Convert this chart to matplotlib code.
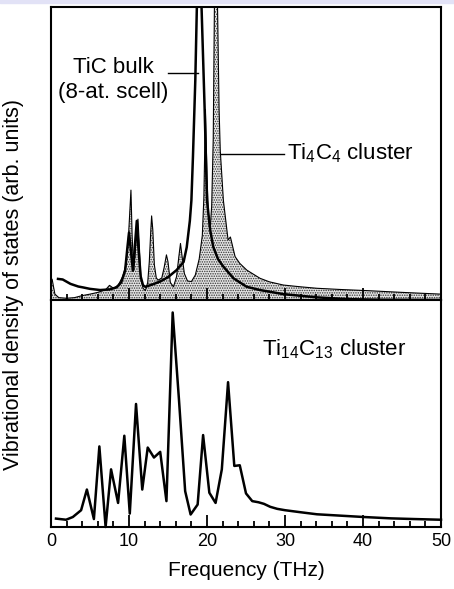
#!/usr/bin/env python

import numpy as np
import matplotlib
matplotlib.use('Agg')
import matplotlib.pyplot as plt
from matplotlib.patches import Rectangle

plt.rcParams['font.family'] = ['Liberation Sans', 'DejaVu Sans']
plt.rcParams['mathtext.default'] = 'regular'
plt.rcParams['hatch.linewidth'] = 0.7

"""
Digitized curves (frequency in THz, DOS in arb. units)
"""
# Ti4C4 cluster (thin line, stippled fill) -- top panel
f_ti4c4 = [0.0, 0.15, 0.5, 1.0, 2.0, 3.0, 4.0, 5.0, 6.0, 7.0, 7.5, 8.0, 8.6,
           9.2, 9.6, 9.9, 10.1, 10.25, 10.4, 10.6, 10.8, 11.0, 11.15, 11.3,
           11.5, 11.8, 12.1, 12.4, 12.6, 12.8, 12.9, 13.05, 13.25, 13.5,
           13.75, 14.2, 14.5, 14.8, 15.0, 15.3, 15.7, 16.1, 16.4, 16.6, 16.8,
           17.1, 17.5, 18.0, 18.5, 19.0, 19.4, 19.6, 19.8, 20.0, 20.2, 20.4,
           20.6, 20.8, 20.95, 21.1, 21.35, 21.55, 21.7, 22.1, 22.7, 23.0,
           23.6, 24.2, 25.1, 26.8, 28.0, 29.8, 32.0, 34.1, 37.0, 40.5, 45.0,
           50.0]
d_ti4c4 = [7.5, 7.0, 2.0, 0.8, 0.6, 0.8, 1.5, 2.0, 2.6, 3.5, 5.0, 4.0, 5.0,
           8.0, 12.0, 20.0, 30.0, 37.5, 22.0, 10.0, 16.0, 25.0, 27.6, 20.0,
           8.0, 4.0, 3.2, 6.0, 13.0, 24.0, 28.7, 24.0, 12.0, 7.5,
           6.8, 7.5, 11.0, 15.4, 13.0, 6.0, 4.5, 8.0, 15.0, 19.3, 15.0,
           9.0, 6.5, 6.3, 8.5, 14.0, 22.0, 35.0, 65.0, 42.0, 28.0, 24.0,
           32.0, 55.0, 100.0, 200.0, 100.0, 65.0, 51.0, 34.0, 20.5, 21.5,
           14.8, 12.5, 10.2, 7.4, 6.2, 5.1, 4.5, 4.0, 3.6, 3.2, 2.6,
           2.0]

# TiC bulk, 8-atom supercell (thick line) -- top panel
f_bulk = [0.9, 1.5, 2.5, 3.5, 4.1, 5.0, 6.3, 7.5, 8.4, 9.0, 9.5, 9.8, 10.0,
          10.2, 10.5, 10.8, 11.0, 11.2, 11.5, 11.8, 12.1, 13.0, 14.0, 15.0,
          16.1, 17.0, 17.4, 17.8, 18.0, 18.2, 18.5, 18.7, 19.0, 19.3, 19.7,
          20.0, 20.4, 20.8, 21.4, 22.1, 23.4, 25.1, 26.8, 29.8, 34.1, 38.0,
          42.0, 50.0]
d_bulk = [7.2, 7.0, 5.5, 4.6, 4.3, 3.8, 3.4, 3.6, 4.3, 6.0, 10.0, 18.0, 23.0,
          18.0, 10.0, 20.0, 27.0, 18.0, 8.0, 5.0, 4.5, 5.3, 6.3, 7.8,
          10.2, 13.0, 18.0, 27.0, 34.0, 49.0, 75.0, 100.0, 200.0, 100.0, 65.0,
          34.0, 24.0, 18.2, 14.0, 11.4, 7.4, 4.5, 3.4, 2.0, 0.9, 0.3,
          0.1, 0.0]

# Ti14C13 cluster -- bottom panel
f_ti14 = [0.64, 1.93, 2.8, 3.86, 4.6, 5.5, 6.2, 7.0, 7.7, 8.6, 9.4, 10.1,
          10.9, 11.7, 12.4, 13.2, 14.0, 14.8, 15.6, 16.4, 17.2, 17.9, 18.8,
          19.5, 20.3, 21.1, 21.9, 22.7, 23.5, 24.2, 25.0, 25.8, 26.6, 27.3,
          28.1, 29.0, 30.0, 32.0, 34.1, 37.1, 40.1, 43.6, 46.6, 50.0]
d_ti14 = [3.7, 3.2, 4.4, 7.4, 16.5, 3.5, 35.5, 0.0, 25.4, 10.6, 40.2, 5.9,
          54.2, 16.5, 35.0, 30.6, 33.1, 11.4, 94.5, 56.4, 15.8, 5.5, 9.9,
          40.5, 15.1, 10.6, 25.4, 63.8, 26.9, 27.2, 14.8, 11.4, 10.9, 10.2,
          8.9, 8.0, 7.4, 6.5, 5.6, 5.0, 4.4, 3.8, 3.5, 3.2]

xticks_major = [0, 10, 20, 30, 40, 50]

fig = plt.figure(figsize=(4.54, 5.89), dpi=100)
fig.patches.append(Rectangle((0, 1 - 2.5/589), 1, 2.5/589,
                             transform=fig.transFigure, color='#e2e2f6',
                             zorder=0))

ax1 = fig.add_axes([51/454., 1 - 300/589., 390/454., 293/589.])
ax2 = fig.add_axes([51/454., 1 - 527/589., 390/454., 227/589.])

for ax in (ax1, ax2):
    ax.set_xlim(0, 50)
    ax.set_ylim(0, 100)
    ax.set_yticks([])
    ax.set_xticks(xticks_major)
    ax.set_xticks(np.arange(0, 51, 2), minor=True)
    ax.tick_params(axis='x', which='major', direction='in', length=8.5,
                   width=1.3, labelsize=13, pad=4)
    ax.tick_params(axis='x', which='minor', direction='in', length=4.5,
                   width=1.3)
    for s in ax.spines.values():
        s.set_linewidth(1.5)

ax1.tick_params(axis='x', labelbottom=False)

# top panel
ax1.fill_between(f_ti4c4, d_ti4c4, 0, facecolor='#e4e4e4', edgecolor='0.2',
                 hatch='.......', linewidth=0)
ax1.plot(f_ti4c4, d_ti4c4, 'k', lw=0.8)
ax1.plot(f_bulk, d_bulk, 'k', lw=1.8)

ax1.text(8.0, 77.5, 'TiC bulk', fontsize=16, ha='center', va='baseline')
ax1.text(8.0, 68.9, '(8-at. scell)', fontsize=16, ha='center',
         va='baseline')
ax1.plot([15.0, 18.9], [77.5, 77.5], 'k', lw=1.0)

ax1.plot([21.7, 29.9], [49.8, 49.8], 'k', lw=1.0)
ax1.text(30.2, 47.9, 'Ti$_4$C$_4$ cluster', fontsize=16, ha='left',
         va='baseline')

# bottom panel
ax2.plot(f_ti14, d_ti14, 'k', lw=1.8, clip_on=False)
ax2.text(27.0, 75.7, 'Ti$_{14}$C$_{13}$ cluster', fontsize=16, ha='left',
         va='baseline')

ax2.set_xlabel('Frequency (THz)', fontsize=15, labelpad=8)
fig.text(14/454., 1 - 284/589., 'Vibrational density of states (arb. units)',
         rotation=90, fontsize=15.5, ha='center', va='center')

plt.savefig('out.png', dpi=100)
